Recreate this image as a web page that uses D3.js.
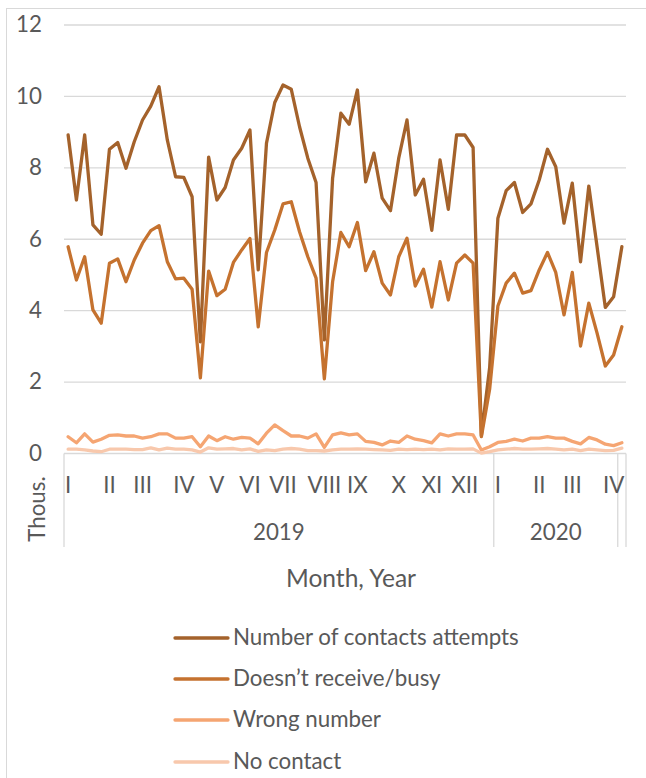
<!DOCTYPE html>
<html>
<head>
<meta charset="utf-8">
<script src="https://cdn.jsdelivr.net/npm/d3@7"></script>
<style>
  html, body { margin: 0; padding: 0; background: #fff; }
  svg { display: block; }
  text { font-family: Lato, "Open Sans", sans-serif; fill: #595959; }
</style>
</head>
<body>
<svg id="chart" width="646" height="778"></svg>
<script>
// ---- Data (thousands, weekly) ----
const attempts = [8.92,7.10,8.92,6.40,6.14,8.52,8.71,7.99,8.73,9.34,
  9.73,10.27,8.78,7.75,7.73,7.19,3.13,8.30,7.10,7.45,
  8.22,8.55,9.06,5.14,8.69,9.83,10.32,10.20,9.15,8.27,
  7.59,3.18,7.71,9.53,9.22,10.18,7.61,8.41,7.15,6.80,
  8.27,9.34,7.24,7.68,6.25,8.22,6.84,8.92,8.92,8.57,
  0.50,2.40,6.59,7.36,7.59,6.75,6.99,7.66,8.52,8.03,
  6.45,7.57,5.37,7.49,5.79,4.09,4.39,5.79];
const busy = [5.79,4.86,5.51,4.02,3.65,5.33,5.45,4.81,5.42,5.89,
  6.24,6.38,5.37,4.89,4.91,4.60,2.12,5.11,4.42,4.60,
  5.35,5.70,6.02,3.55,5.63,6.26,6.99,7.05,6.21,5.51,
  4.91,2.09,4.81,6.19,5.79,6.47,5.12,5.65,4.77,4.44,
  5.51,6.03,4.69,5.16,4.10,5.37,4.30,5.33,5.56,5.33,
  0.47,1.80,4.13,4.77,5.05,4.49,4.56,5.14,5.63,5.07,
  3.88,5.07,3.01,4.21,3.37,2.45,2.76,3.55];
const wrongNumber = [0.47,0.30,0.55,0.32,0.40,0.51,0.52,0.49,0.49,0.43,
  0.47,0.55,0.55,0.43,0.43,0.47,0.19,0.49,0.36,0.47,
  0.40,0.45,0.43,0.27,0.57,0.80,0.64,0.49,0.49,0.43,
  0.55,0.17,0.52,0.58,0.52,0.55,0.34,0.31,0.24,0.35,
  0.31,0.49,0.40,0.36,0.30,0.55,0.49,0.55,0.55,0.52,
  0.10,0.19,0.31,0.34,0.40,0.35,0.43,0.43,0.47,0.43,
  0.43,0.34,0.27,0.45,0.38,0.26,0.22,0.30];
const noContact = [0.12,0.12,0.10,0.07,0.05,0.12,0.12,0.12,0.11,0.11,
  0.16,0.10,0.15,0.12,0.12,0.10,0.04,0.16,0.12,0.13,
  0.14,0.10,0.13,0.06,0.10,0.08,0.12,0.14,0.12,0.08,
  0.08,0.07,0.10,0.12,0.12,0.13,0.12,0.11,0.10,0.09,
  0.12,0.11,0.12,0.11,0.12,0.10,0.13,0.12,0.12,0.13,
  0.01,0.05,0.10,0.12,0.14,0.12,0.12,0.13,0.14,0.12,
  0.10,0.12,0.08,0.12,0.10,0.08,0.09,0.15];

const seriesNames = ["Number of contacts attempts", "Doesn\u2019t receive/busy", "Wrong number", "No contact"];
const seriesColors = ["#A4622B", "#C5722F", "#F5A572", "#F8C8AC"];

// month labels: [week index, label]
const monthLabelIdx = [0,5,9,14,18,22,26,31,35,40,44,48, 52,57,61,66];
const monthLabels = ["I","II","III","IV","V","VI","VII","VIII","IX","X","XI","XII", "I","II","III","IV"];
// year groups
const yearLabels = ["2019", "2020", ""];
const yearCounts = [52, 15, 1];

const yTicks = [0,2,4,6,8,10,12];

// ---- Layout ----
const svg = d3.select("#chart");
const plot = {left: 64, right: 626, top: 25, bottom: 453.5};
const N = attempts.length;

const x = d3.scaleBand().domain(d3.range(N)).range([plot.left, plot.right]).paddingInner(0).paddingOuter(0);
const y = d3.scaleLinear().domain([0, 12]).range([plot.bottom, plot.top]);
const cx = i => x(i) + x.bandwidth() / 2;

// font fitting (Calibri substitute)
const probe = svg.append("text").attr("font-size", 24).text(seriesNames[0]);
const w24 = probe.node().getComputedTextLength();
probe.remove();
const fs = Math.min(24, 24 * 286 / w24);

// chart border
svg.append("rect").attr("x", 6.5).attr("y", 8.5).attr("width", 660).attr("height", 790)
  .attr("fill", "none").attr("stroke", "#d9d9d9").attr("stroke-width", 1);

// gridlines
svg.append("g").selectAll("line").data(yTicks.filter(d => d > 0)).join("line")
  .attr("x1", plot.left).attr("x2", plot.right)
  .attr("y1", d => y(d)).attr("y2", d => y(d))
  .attr("stroke", "#d9d9d9").attr("stroke-width", 1.3);

// y tick labels
svg.append("g").selectAll("text").data(yTicks).join("text")
  .attr("x", 42).attr("y", d => y(d) + fs * 0.33)
  .attr("text-anchor", "end").attr("font-size", fs)
  .text(d => d);

// category axis: baseline + group boxes
const axisBottom = 547;
svg.append("line").attr("x1", plot.left).attr("x2", plot.right)
  .attr("y1", plot.bottom).attr("y2", plot.bottom)
  .attr("stroke", "#d9d9d9").attr("stroke-width", 1.3);
let acc = 0;
const bounds = [0];
yearCounts.forEach(c => { acc += c; bounds.push(acc); });
svg.append("g").selectAll("line").data(bounds).join("line")
  .attr("x1", d => d < N ? x(d) : plot.right).attr("x2", d => d < N ? x(d) : plot.right)
  .attr("y1", plot.bottom).attr("y2", axisBottom)
  .attr("stroke", "#d9d9d9").attr("stroke-width", 1.3);

// month labels
svg.append("g").selectAll("text").data(monthLabelIdx).join("text")
  .attr("x", d => cx(d)).attr("y", 492.5)
  .attr("text-anchor", "middle").attr("font-size", fs)
  .text((d, i) => monthLabels[i]);

// year labels
svg.append("g").selectAll("text").data(yearLabels).join("text")
  .attr("x", (d, i) => {
    const a = bounds[i], b = bounds[i + 1];
    const x0 = x(a), x1 = b < N ? x(b) : plot.right;
    return (x0 + x1) / 2;
  })
  .attr("y", 539.5)
  .attr("text-anchor", "middle").attr("font-size", fs)
  .text(d => d);

// axis titles
svg.append("text").attr("x", (plot.left + plot.right) / 2 + 6).attr("y", 587)
  .attr("text-anchor", "middle").attr("font-size", fs * 1.1).text("Month, Year");
svg.append("text").attr("transform", "translate(45,509) rotate(-90)")
  .attr("text-anchor", "middle").attr("font-size", fs).text("Thous.");

// lines
const allSeries = [attempts, busy, wrongNumber, noContact];
const line = d3.line().x((d, i) => cx(i)).y(d => y(d));
svg.append("g").selectAll("path").data(allSeries).join("path")
  .attr("d", d => line(d))
  .attr("fill", "none")
  .attr("stroke", (d, i) => seriesColors[i])
  .attr("stroke-width", 3.3)
  .attr("stroke-linejoin", "round")
  .attr("stroke-linecap", "round");

// legend
const legY = [638, 679, 720, 762];
const leg = svg.append("g").selectAll("g").data(seriesNames).join("g")
  .attr("transform", (d, i) => `translate(0,${legY[i]})`);
leg.append("line").attr("x1", 175).attr("x2", 228).attr("y1", 0).attr("y2", 0)
  .attr("stroke", (d, i) => seriesColors[i]).attr("stroke-width", 3.3).attr("stroke-linecap", "round");
leg.append("text").attr("x", 233).attr("y", fs * 0.33).attr("font-size", fs).text(d => d);
</script>
</body>
</html>
